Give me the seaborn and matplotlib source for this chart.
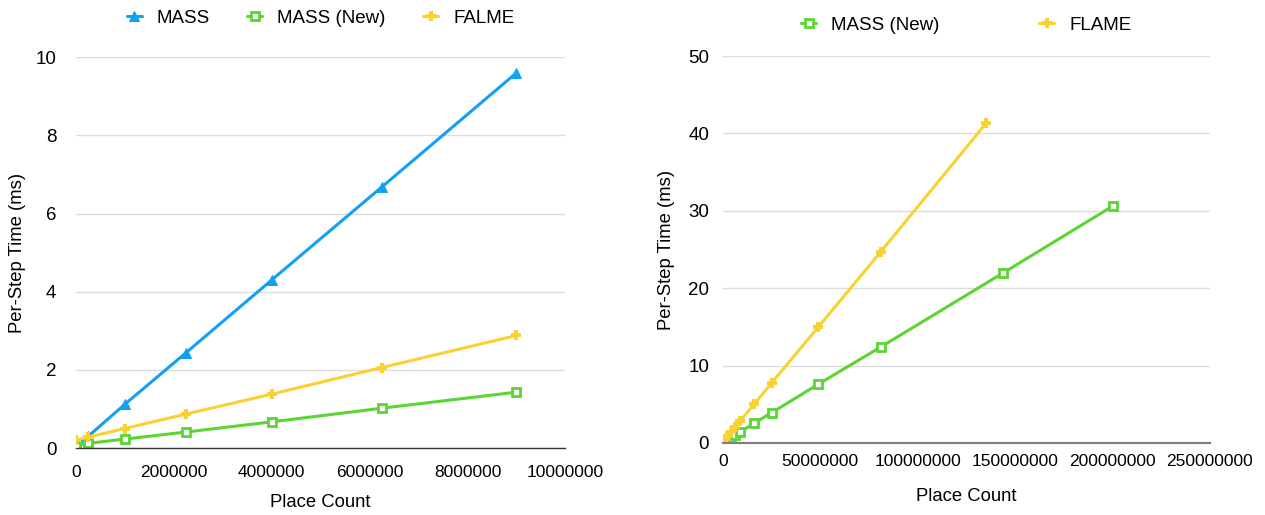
import numpy as np
import pandas as pd
import seaborn as sns
from matplotlib import pyplot as plt
from matplotlib.ticker import FuncFormatter

# left chart: place counts up to 9M
left_x = [10000, 250000, 1000000, 2250000, 4000000, 6250000, 9000000]
left_mass = [0.05, 0.30, 1.12, 2.44, 4.30, 6.68, 9.60]
left_mass_new = [0.05, 0.12, 0.23, 0.41, 0.67, 1.02, 1.43]
left_falme = [0.20, 0.28, 0.50, 0.87, 1.38, 2.06, 2.88]

# right chart: larger runs
right_new_x = [10000, 250000, 1000000, 2250000, 4000000, 6250000, 9000000,
               16000000, 25000000, 49000000, 81000000, 144000000, 200000000]
right_new = [0.05, 0.12, 0.23, 0.41, 0.67, 1.02, 1.43, 2.55, 3.9, 7.6, 12.4, 22.0, 30.6]
right_flame_x = [10000, 250000, 1000000, 2250000, 4000000, 6250000, 9000000,
                 16000000, 25000000, 49000000, 81000000, 135000000]
right_flame = [0.20, 0.28, 0.50, 0.87, 1.38, 2.06, 2.88, 5.0, 7.75, 15.0, 24.7, 41.3]

BLUE = '#14a0f2'
GREEN = '#5cd433'
YELLOW = '#f9d232'

sns.set_theme(style='white')
plt.rcParams['font.family'] = ['Liberation Sans', 'DejaVu Sans']
plt.rcParams['text.color'] = 'black'
plt.rcParams['axes.labelcolor'] = 'black'

fig = plt.figure(figsize=(12.65, 5.15), dpi=100)
ax1 = fig.add_axes([0.060, 0.130, 0.387, 0.759])
ax2 = fig.add_axes([0.5715, 0.140, 0.385, 0.751])

line_kw = dict(linewidth=2.2, estimator=None, sort=False)

sns.lineplot(x=left_x, y=left_mass, ax=ax1, color=BLUE, marker='^', markersize=7,
             markeredgecolor=BLUE, label='MASS', **line_kw)
sns.lineplot(x=left_x, y=left_mass_new, ax=ax1, color=GREEN, marker='s', markersize=6,
             markerfacecolor='white', markeredgecolor=GREEN, markeredgewidth=2,
             label='MASS (New)', **line_kw)
sns.lineplot(x=left_x, y=left_falme, ax=ax1, color=YELLOW, marker='P', markersize=7.5,
             markeredgecolor=YELLOW, markeredgewidth=0, label='FALME', **line_kw)

sns.lineplot(x=right_new_x, y=right_new, ax=ax2, color=GREEN, marker='s', markersize=6,
             markerfacecolor='white', markeredgecolor=GREEN, markeredgewidth=2,
             label='MASS (New)', **line_kw)
sns.lineplot(x=right_flame_x, y=right_flame, ax=ax2, color=YELLOW, marker='P', markersize=7.5,
             markeredgecolor=YELLOW, markeredgewidth=0, label='FLAME', **line_kw)

plain = FuncFormatter(lambda v, p: '%d' % v)

ax1.set_xlim(0, 10000000)
ax1.set_ylim(0, 10)
ax1.set_xticks(np.arange(0, 10000001, 2000000))
ax1.set_yticks(np.arange(0, 11, 2))

ax2.set_xlim(0, 250000000)
ax2.set_ylim(0, 50)
ax2.set_xticks(np.arange(0, 250000001, 50000000))
ax2.set_yticks(np.arange(0, 51, 10))

for ax, bottom_col, bottom_w in [(ax1, '#333333', 1.0), (ax2, '#808080', 1.6)]:
    ax.xaxis.set_major_formatter(plain)
    ax.yaxis.set_major_formatter(plain)
    ax.grid(axis='y', color='#dcdcdc', linewidth=1.0)
    ax.grid(axis='x', visible=False)
    for s in ['top', 'right', 'left']:
        ax.spines[s].set_visible(False)
    ax.spines['bottom'].set_color(bottom_col)
    ax.spines['bottom'].set_linewidth(bottom_w)
    ax.tick_params(axis='both', length=0, labelsize=12.5, colors='black')
    ax.set_xlabel('Place Count', fontsize=13.3)
    ax.set_ylabel('Per-Step Time (ms)', fontsize=13.3)

ax1.tick_params(axis='y', labelsize=13.5)
ax2.tick_params(axis='y', labelsize=13.5)
ax1.tick_params(axis='x', pad=12)
ax1.tick_params(axis='y', pad=14)
ax2.tick_params(axis='x', pad=8)
ax2.tick_params(axis='y', pad=10)

ax1.yaxis.set_label_coords(-0.102, 0.5)
ax1.xaxis.set_label_coords(0.5, -0.118)
ax2.yaxis.set_label_coords(-0.099, 0.5)
ax2.xaxis.set_label_coords(0.5, -0.116)

ax1.legend(loc='center', bbox_to_anchor=(0.5, 1.10), ncol=3, frameon=False,
           fontsize=13.5, handlelength=0.8, columnspacing=2.0, handletextpad=0.8)
ax2.legend(loc='center', bbox_to_anchor=(0.5, 1.08), ncol=2, frameon=False,
           fontsize=13.5, handlelength=0.8, columnspacing=5.3, handletextpad=0.8)

fig.savefig('out.png', dpi=100)
